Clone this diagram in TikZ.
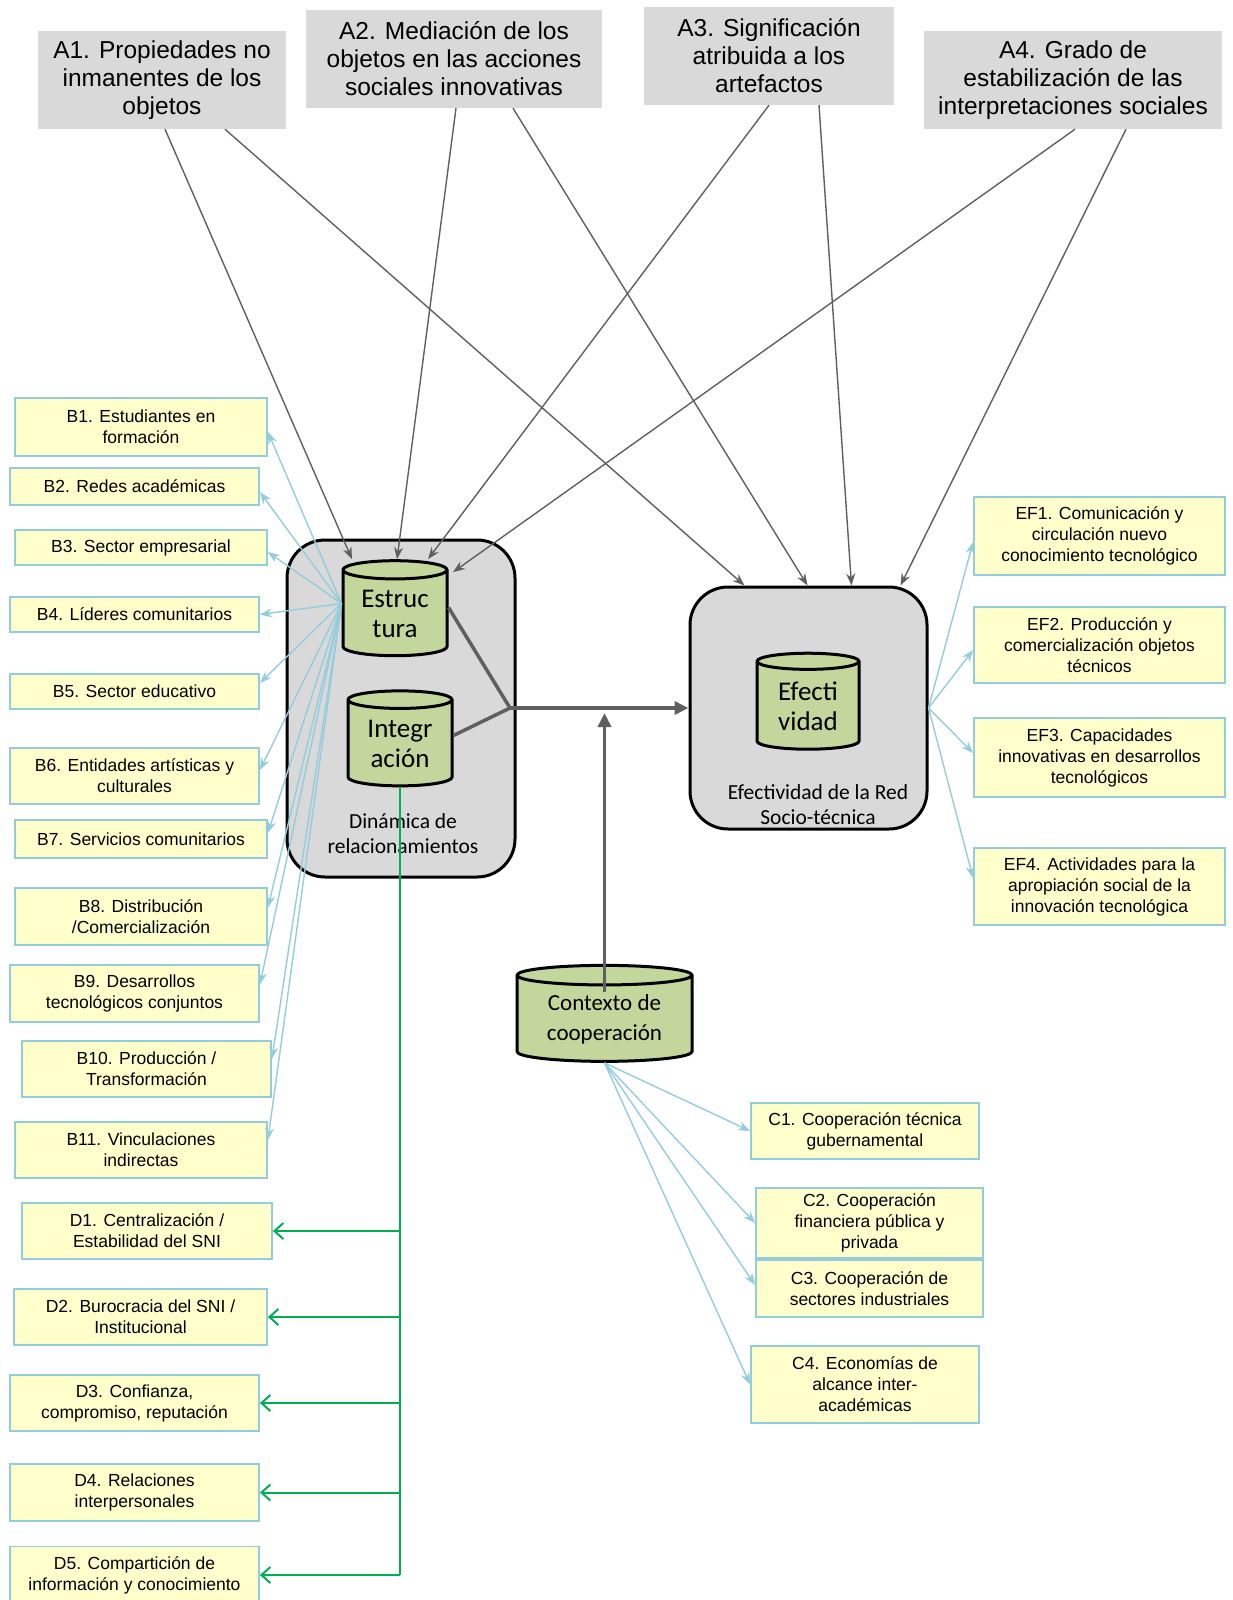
\documentclass[tikz,border=0pt]{standalone}
\usepackage{fontspec}
\setmainfont{Liberation Sans}
\newfontfamily\calfont{Carlito}
\usetikzlibrary{shapes.geometric,arrows.meta,calc}

\definecolor{boxfill}{HTML}{FFFFCC}
\definecolor{boxline}{HTML}{93CDDD}
\definecolor{cylfill}{HTML}{C3D69B}
\definecolor{panel}{HTML}{D9D9D9}
\definecolor{arrgray}{HTML}{5F5F5F}
\definecolor{linkgreen}{HTML}{00B050}

\tikzset{
  sz/.style 2 args={minimum width=#1pt, minimum height=#2pt},
  abox/.style={fill=panel, align=center, inner sep=0pt,
    font=\fontsize{24.5}{28}\selectfont},
  bbox/.style={draw=boxline, fill=boxfill, line width=1.8pt, align=center,
    inner sep=0pt, font=\fontsize{17.5}{21}\selectfont},
  panelbox/.style={draw=black, fill=panel, line width=3pt, rounded corners=38pt},
  drum/.style={cylinder, shape border rotate=90, aspect=0.27, draw=black,
    fill=cylfill, line width=3pt, align=center, inner sep=0pt,
    font=\calfont\fontsize{27}{30}\selectfont},
  paneltext/.style={align=center, font=\calfont\fontsize{21.5}{25}\selectfont},
  aarrow/.style={draw=arrgray, line width=1.4pt, -{Stealth[length=12pt,width=9pt]}},
  thick gray/.style={draw=arrgray, line width=3.5pt},
  bigtip/.style={-{Triangle[length=14pt,width=13pt]}},
  barrow/.style={draw=boxline, line width=1.4pt, -{Stealth[length=12pt,width=9pt]}},
  garrow/.style={draw=linkgreen, line width=2pt, -{Straight Barb[length=9pt,width=16pt]}}
}

\begin{document}
\begin{tikzpicture}[x=1pt,y=-1pt]
  \useasboundingbox (0,0) rectangle (1232,1600);

  % the two panels
  \node[panelbox, sz={228}{337}] (din) at (401,708.5) {};
  \node[panelbox, sz={237}{242}] (efe) at (808.5,708) {};
  \node[paneltext] (dinlbl) at (403,834) {Dinámica de\\relacionamientos};
  \node[paneltext] (efelbl) at (818,805) {Efectividad de la Red\\Socio-técnica};

  % drums
  \node[drum, sz={104}{95}] (estr) at (395,613.5) {Estruc\\tura};
  \node[drum, sz={104}{95}] (integ) at (400,743.5) {Integr\\ación};
  \node[drum, sz={102}{96}] (efec) at (808,706) {Efecti\\vidad};
  \node[drum, sz={175}{96}, aspect=0.17, font=\calfont\fontsize{23}{30}\selectfont]
    (ctx) at (604.5,1019) {Contexto de\\cooperación};

  % A row
  \node[abox, sz={248}{98}] (A1) at (162,80) {A1. Propiedades no\\inmanentes de los\\objetos};
  \node[abox, sz={296}{98}] (A2) at (454,59) {A2. Mediación de los\\objetos en las acciones\\sociales innovativas};
  \node[abox, sz={250}{98}] (A3) at (769,56) {A3. Significación\\atribuida a los\\artefactos};
  \node[abox, sz={298}{98}] (A4) at (1073,80) {A4. Grado de\\estabilización de las\\interpretaciones sociales};

  % B column
  \node[bbox, sz={252}{58}] (B1) at (141,427) {B1. Estudiantes en\\formación};
  \node[bbox, sz={249}{37}] (B2) at (134.5,486.5) {B2. Redes académicas};
  \node[bbox, sz={252}{35}] (B3) at (141,547.5) {B3. Sector empresarial};
  \node[bbox, sz={249}{35}] (B4) at (134.5,614.5) {B4. Líderes comunitarios};
  \node[bbox, sz={249}{35}] (B5) at (134.5,691.5) {B5. Sector educativo};
  \node[bbox, sz={249}{56}] (B6) at (134.5,776) {B6. Entidades artísticas y\\culturales};
  \node[bbox, sz={252}{38}] (B7) at (141,839) {B7. Servicios comunitarios};
  \node[bbox, sz={252}{57}] (B8) at (141,916.5) {B8. Distribución\\/Comercialización};
  \node[bbox, sz={249}{57}] (B9) at (134.5,993.5) {B9. Desarrollos\\tecnológicos conjuntos};
  \node[bbox, sz={249}{56}] (B10) at (146.5,1069) {B10. Producción /\\Transformación};
  \node[bbox, sz={252}{56}] (B11) at (141,1150) {B11. Vinculaciones\\indirectas};

  % D column
  \node[bbox, sz={250}{56}] (D1) at (147,1231) {D1. Centralización /\\Estabilidad del SNI};
  \node[bbox, sz={253}{56}] (D2) at (140.5,1317) {D2. Burocracia del SNI /\\Institucional};
  \node[bbox, sz={249}{56}] (D3) at (134.5,1403) {D3. Confianza,\\compromiso, reputación};
  \node[bbox, sz={249}{57}] (D4) at (134.5,1492.5) {D4. Relaciones\\interpersonales};
  \node[bbox, sz={249}{57}] (D5) at (134.5,1575) {D5. Compartición de\\información y conocimiento};

  % EF column
  \node[bbox, sz={251}{78}] (EF1) at (1099.5,536) {EF1. Comunicación y\\circulación nuevo\\conocimiento tecnológico};
  \node[bbox, sz={251}{76}] (EF2) at (1099.5,645) {EF2. Producción y\\comercialización objetos\\técnicos};
  \node[bbox, sz={251}{79}] (EF3) at (1099.5,757.5) {EF3. Capacidades\\innovativas en desarrollos\\tecnológicos};
  \node[bbox, sz={251}{77}] (EF4) at (1099.5,886.5) {EF4. Actividades para la\\apropiación social de la\\innovación tecnológica};

  % C column
  \node[bbox, sz={228}{56}] (C1) at (865,1131) {C1. Cooperación técnica\\gubernamental};
  \node[bbox, sz={227}{70}] (C2) at (869.5,1223) {C2. Cooperación\\financiera pública y\\privada};
  \node[bbox, sz={227}{57}] (C3) at (869.5,1288.5) {C3. Cooperación de\\sectores industriales};
  \node[bbox, sz={228}{77}] (C4) at (865,1384.5) {C4. Economías de\\alcance inter-\\académicas};

  % A arrows
  \draw[aarrow] ([xshift=3pt]A1.south) -- ([xshift=-43pt]estr.north);
  \draw[aarrow] ([xshift=63pt]A1.south) -- ([xshift=-64pt]efe.north);
  \draw[aarrow] ([xshift=2pt]A2.south) -- ([xshift=2pt]estr.north);
  \draw[aarrow] ([xshift=59pt]A2.south) -- ([xshift=-1pt]efe.north);
  \draw[aarrow] (A3.south) -- ([xshift=33pt]estr.north);
  \draw[aarrow] ([xshift=50pt]A3.south) -- ([xshift=43pt]efe.north);
  \draw[aarrow] ([xshift=2pt]A4.south) -- ([xshift=58pt,yshift=-13pt]estr.north);
  \draw[aarrow] ([xshift=53pt]A4.south) -- ([xshift=92pt]efe.north);

  % inner links
  \coordinate (join) at (510,708);
  \draw[thick gray] ([yshift=6pt]estr.east) -- (join);
  \draw[thick gray] ([yshift=8pt]integ.east) -- (join);
  \draw[thick gray, bigtip] (join) -- (efe.west);
  \draw[thick gray, bigtip] ([yshift=-28pt]ctx.north) -- ($(ctx.north |- join)+(0,5)$);

  % fan to B
  \foreach \b/\dy in {B1/-5, B2/-5.5, B3/-4.5, B4/0, B5/8.5, B6/6, B7/6,
                      B8/9, B9/9, B10/10, B11/10}
    \draw[barrow] ([yshift=10pt]estr.west) -- ([yshift=\dy pt]\b.east);

  % fan to EF
  \foreach \e/\dy in {EF1/-6, EF2/-5, EF3/4.5, EF4/8.5}
    \draw[barrow] (efe.east) -- ([yshift=\dy pt]\e.west);

  % fan to C
  \foreach \c/\dy in {C1/0, C2/0, C3/3.5, C4/0}
    \draw[barrow] (ctx.south) -- ([yshift=\dy pt]\c.west);

  % green bus to D
  \draw[draw=linkgreen, line width=2.5pt] (integ.south) -- (integ.south |- D5.east);
  \foreach \d in {D1,D2,D3,D4,D5}
    \draw[garrow] (integ.south |- \d.east) -- (\d.east);
\end{tikzpicture}
\end{document}
